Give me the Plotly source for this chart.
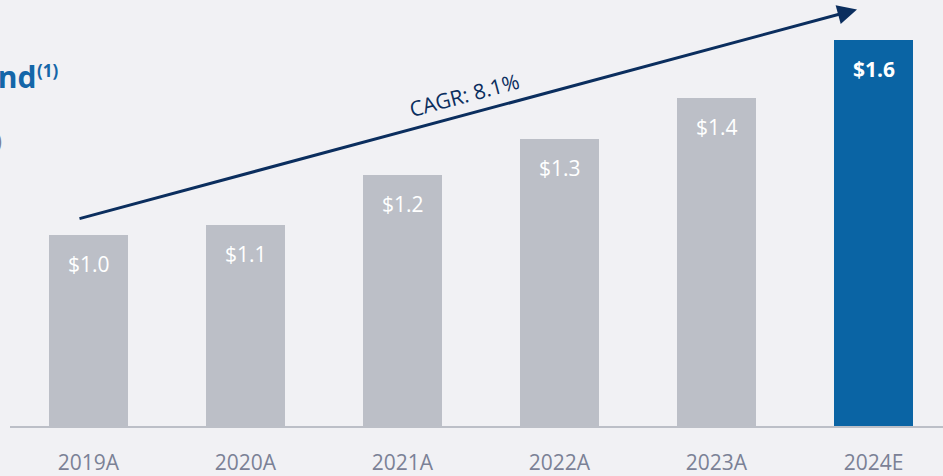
import plotly.graph_objects as go

categories = ["2019A", "2020A", "2021A", "2022A", "2023A", "2024E"]
values = [1.03, 1.06, 1.21, 1.32, 1.445, 1.62]
value_labels = ["$1.0", "$1.1", "$1.2", "$1.3", "$1.4", "$1.6"]
bar_colors = ["#BCBFC7", "#BCBFC7", "#BCBFC7", "#BCBFC7", "#BCBFC7", "#0A64A4"]
label_bold = [False, False, False, False, False, True]
cagr_text = "CAGR: 8.1%"
title_text = "Trend"
title_note = "(1)"
subtitle_text = "($ in billions)"

BG = "#F1F1F4"
NAVY = "#0B2E5E"
FONT = "Open Sans, Noto Sans, sans-serif"

W, H = 943, 476
ML, MR, MT, MB = 10, 0, 0, 50
PW, PH = W - ML - MR, H - MT - MB
slot = 157.0
y0 = 0.45
scale = 330.0

fig = go.Figure()
fig.add_trace(go.Bar(
    x=list(range(len(categories))),
    y=[v - y0 for v in values],
    base=y0,
    marker=dict(color=bar_colors, line=dict(width=0)),
    width=79 / slot,
    hoverinfo="skip",
))

annotations = []
for i, (v, lab, b) in enumerate(zip(values, value_labels, label_bold)):
    annotations.append(dict(
        x=i, y=v, xref="x", yref="y", text=f"<b>{lab}</b>" if b else lab,
        showarrow=False, yanchor="middle", yshift=-29,
        font=dict(family=FONT, size=21, color="#FFFFFF"),
    ))

def px_to_paper(px, py):
    return (px - ML) / PW, (MT + PH - py) / PH

# arrow
tx, ty = px_to_paper(857, 9.5)
annotations.append(dict(
    x=tx, y=ty, xref="paper", yref="paper", text="",
    showarrow=True, ax=78 - 857, ay=219 - 9.5, axref="pixel", ayref="pixel",
    arrowhead=2, arrowsize=1.3, arrowwidth=3, arrowcolor=NAVY, standoff=0,
))
cx, cy = px_to_paper(464, 95)
annotations.append(dict(
    x=cx, y=cy, xref="paper", yref="paper", text=cagr_text, showarrow=False,
    textangle=-15, font=dict(family=FONT, size=21, color=NAVY),
    xanchor="center", yanchor="middle",
))
ttx, tty = px_to_paper(38, 76)
annotations.append(dict(
    x=ttx, y=tty, xref="paper", yref="paper", text=f"<b>{title_text}</b>",
    showarrow=False, xanchor="right", yanchor="middle",
    font=dict(family=FONT, size=30, color="#1466A8"),
))
ntx, nty = px_to_paper(35, 70.5)
annotations.append(dict(
    x=ntx, y=nty, xref="paper", yref="paper", text=f"<b>{title_note}</b>",
    showarrow=False, xanchor="left", yanchor="middle",
    font=dict(family=FONT, size=17, color="#1466A8"),
))
sx, sy = px_to_paper(4, 141)
annotations.append(dict(
    x=sx, y=sy, xref="paper", yref="paper", text=subtitle_text,
    showarrow=False, xanchor="right", yanchor="middle",
    font=dict(family=FONT, size=21, color="#7B8196"),
))

xmin = -0.5
xmax = xmin + PW / slot
fig.update_layout(
    width=W, height=H,
    margin=dict(l=ML, r=MR, t=MT, b=MB, pad=0),
    paper_bgcolor=BG, plot_bgcolor=BG,
    showlegend=False,
    annotations=annotations,
    xaxis=dict(
        range=[xmin, xmax], tickmode="array",
        tickvals=list(range(len(categories))), ticktext=categories,
        showgrid=False, zeroline=False, showline=True,
        linecolor="#BCBFC7", linewidth=2,
        ticks="outside", ticklen=17, tickcolor="rgba(0,0,0,0)",
        tickfont=dict(family=FONT, size=21, color="#7B8196"),
        fixedrange=True,
    ),
    yaxis=dict(
        range=[y0, y0 + PH / scale], visible=False, showgrid=False,
        zeroline=False, fixedrange=True,
    ),
    bargap=0,
)

fig.write_html(
    "out.html",
    config={"displayModeBar": False},
    post_script="document.body.style.margin='0px';document.body.style.background='#F1F1F4';",
)
